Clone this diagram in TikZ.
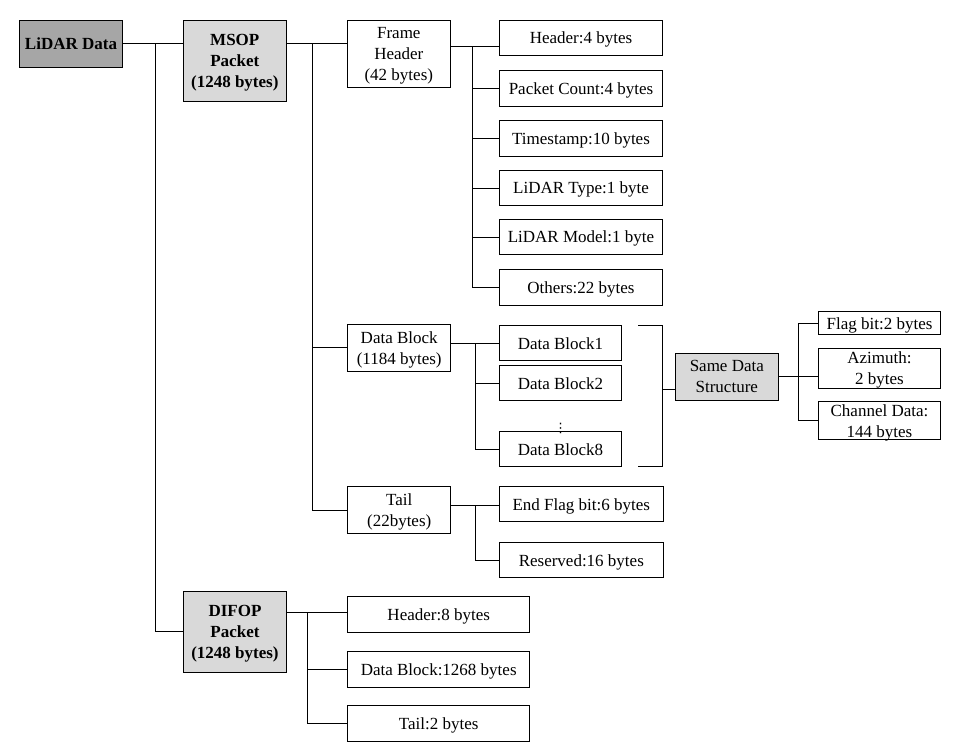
\documentclass[tikz,border=0pt]{standalone}
\usepackage{fontspec}
\setmainfont{Liberation Serif}
\newfontfamily\dejavu{DejaVu Sans}
\usetikzlibrary{positioning,calc}
\definecolor{RootGray}{HTML}{A6A6A6}
\definecolor{PktGray}{HTML}{D9D9D9}
\tikzset{
  blk/.style     = {draw, line width=1pt, align=center, inner sep=0pt, text depth=0pt,
                    font=\fontsize{17}{21}\selectfont, fill=white},
  blkroot/.style = {blk, fill=RootGray, font=\fontsize{17}{21}\selectfont\bfseries},
  blkpkt/.style  = {blk, fill=PktGray, font=\fontsize{17}{21}\selectfont\bfseries},
  blksame/.style = {blk, fill=PktGray},
  linea/.style   = {line width=1pt},
}

\begin{document}
\begin{tikzpicture}[x=1pt, y=-1pt]
  \useasboundingbox (0,0) rectangle (973,750);

  % raiz y paquetes
  \node[blkroot, minimum width=103pt, minimum height=47pt] (lidar) at (71,43.8) {LiDAR Data};
  \node[blkpkt, minimum width=103pt, minimum height=81pt] (msop) at (234.8,60.8) {MSOP\\Packet\\(1248 bytes)};
  \node[blkpkt, minimum width=103pt, minimum height=81pt] (difop) at (235,631.8) {DIFOP\\Packet\\(1248 bytes)};

  % MSOP: partes
  \node[blk, minimum width=103pt, minimum height=67pt] (fh) at (398.8,53.8) {Frame\\Header\\(42 bytes)};
  \node[blk, minimum width=103pt, minimum height=47pt] (db) at (399.2,347.8) {Data Block\\(1184 bytes)};
  \node[blk, minimum width=103pt, minimum height=47pt] (tail) at (399.2,510) {Tail\\(22bytes)};

  % Frame Header: campos
  \node[blk, minimum width=163pt, minimum height=35.5pt] (hdr) at (581,38) {Header:4 bytes};
  \node[blk, minimum width=163pt, minimum height=35.5pt] (pcnt) at (581,88.3) {Packet Count:4 bytes};
  \node[blk, minimum width=163pt, minimum height=35.5pt] (tstamp) at (581,138.3) {Timestamp:10 bytes};
  \node[blk, minimum width=163pt, minimum height=35.5pt] (ltype) at (581,188) {LiDAR Type:1 byte};
  \node[blk, minimum width=163pt, minimum height=35.5pt] (lmodel) at (581,237) {LiDAR Model:1 byte};
  \node[blk, minimum width=163pt, minimum height=35.5pt] (others) at (581,287.3) {Others:22 bytes};

  % Data Block: bloques
  \node[blk, minimum width=122pt, minimum height=35.3pt] (db1) at (560.5,343.3) {Data Block1};
  \node[blk, minimum width=122pt, minimum height=35.3pt] (db2) at (560.5,383.3) {Data Block2};
  \node[blk, minimum width=122pt, minimum height=35.3pt] (db8) at (560.5,449.3) {Data Block8};
  \node[font=\dejavu\fontsize{13}{15}\selectfont, inner sep=0pt] (dots) at (560.5,428.5) {⋮};

  % estructura comun
  \node[blksame, minimum width=103pt, minimum height=46.7pt] (sds) at (726.8,376.7) {Same Data\\Structure};
  \node[blk, minimum width=121.6pt, minimum height=23.3pt] (flag) at (879.5,323.3) {Flag bit:2 bytes};
  \node[blk, minimum width=121.6pt, minimum height=40pt] (azi) at (879.5,368.3) {Azimuth:\\2 bytes};
  \node[blk, minimum width=121.6pt, minimum height=38.3pt] (chan) at (879.5,420.8) {Channel Data:\\144 bytes};

  % Tail: campos
  \node[blk, minimum width=164pt, minimum height=35.3pt] (endf) at (581.3,504.3) {End Flag bit:6 bytes};
  \node[blk, minimum width=164pt, minimum height=35.3pt] (resv) at (581.3,560.2) {Reserved:16 bytes};

  % DIFOP: campos
  \node[blk, minimum width=182pt, minimum height=36pt] (dhdr) at (438.7,614.3) {Header:8 bytes};
  \node[blk, minimum width=182pt, minimum height=36pt] (ddata) at (438.7,669.3) {Data Block:1268 bytes};
  \node[blk, minimum width=182pt, minimum height=36pt] (dtail) at (438.7,723.3) {Tail:2 bytes};

  % troncos
  \coordinate (t0) at (155.3,43.8);
  \coordinate (t1) at (312.3,43);
  \coordinate (t2) at (472.7,46);
  \coordinate (t3) at (475.7,343.3);
  \coordinate (t4) at (475.7,505.3);
  \coordinate (t5) at (307.3,612.7);
  \coordinate (t6) at (798.3,376.3);
  \coordinate (bt) at (638.3,325.3);
  \coordinate (bm) at (662.3,389);
  \coordinate (bb) at (638.3,466.5);

  \draw[linea] (lidar.east) -- (lidar.east -| msop.west);
  \draw[linea] (t0) |- (difop.west);

  \draw[linea] (msop.east |- t1) -- (fh.west |- t1);
  \draw[linea] (t1) |- (db.west);
  \draw[linea] (t1) |- (tail.west);

  \draw[linea] (fh.east |- t2) -- (hdr.west |- t2);
  \draw[linea] (t2) |- (pcnt.west);
  \draw[linea] (t2) |- (tstamp.west);
  \draw[linea] (t2) |- (ltype.west);
  \draw[linea] (t2) |- (lmodel.west);
  \draw[linea] (t2) |- (others.west);

  \draw[linea] (db.east |- t3) -- (db1.west);
  \draw[linea] (t3) |- (db2.west);
  \draw[linea] (t3) |- (db8.west);

  \draw[linea] (bt) -- (bt -| bm) -- (bb -| bm) -- (bb);
  \draw[linea] (bm) -- (sds.west |- bm);

  \draw[linea] (sds.east |- t6) -- (azi.west |- t6);
  \draw[linea] (t6) |- (flag.west);
  \draw[linea] (t6) |- (chan.west);

  \draw[linea] (tail.east |- t4) -- (endf.west |- t4);
  \draw[linea] (t4) |- (resv.west);

  \draw[linea] (difop.east |- t5) -- (dhdr.west |- t5);
  \draw[linea] (t5) |- (ddata.west);
  \draw[linea] (t5) |- (dtail.west);
\end{tikzpicture}
\end{document}
